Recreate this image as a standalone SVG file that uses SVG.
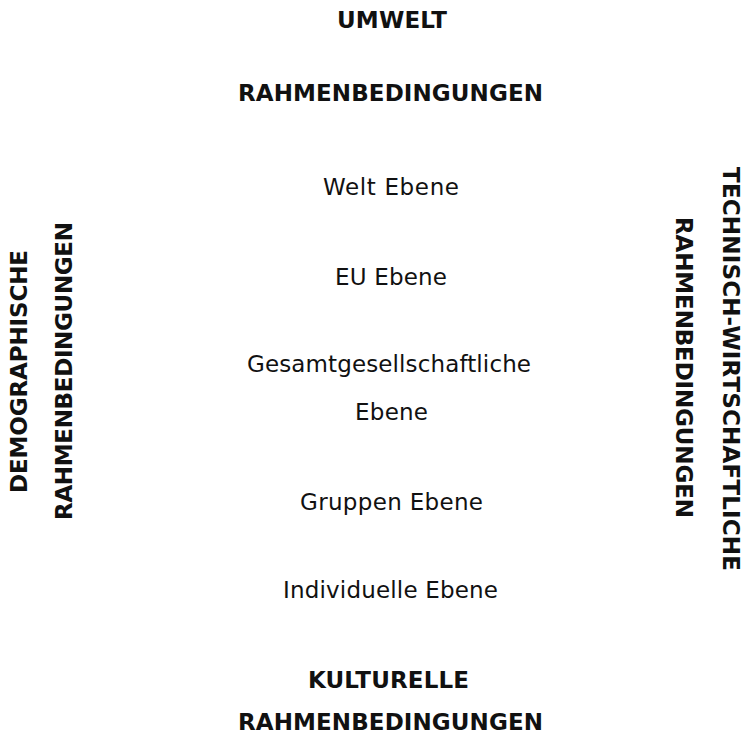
<svg xmlns="http://www.w3.org/2000/svg" width="746" height="736" viewBox="0 0 746 736">
<style>
text{font-family:"DejaVu Sans","Open Sans",sans-serif;fill:#111;text-anchor:middle;font-size:23px}
.b{font-weight:bold}
</style>
<rect width="746" height="736" fill="#fff"/>
<g id="umwelt"><text class="b" x="392" y="28" textLength="110" lengthAdjust="spacing">UMWELT</text><text class="b" x="390.5" y="101" textLength="305" lengthAdjust="spacing">RAHMENBEDINGUNGEN</text></g>
<g id="welt"><text x="391" y="195" textLength="136" lengthAdjust="spacing">Welt Ebene</text></g>
<g id="eu"><text x="391" y="285" textLength="112" lengthAdjust="spacing">EU Ebene</text></g>
<g id="gesamt"><text x="389" y="372" textLength="284" lengthAdjust="spacing">Gesamtgesellschaftliche</text><text x="391.5" y="420" textLength="73" lengthAdjust="spacing">Ebene</text></g>
<g id="gruppen"><text x="391.5" y="510" textLength="183" lengthAdjust="spacing">Gruppen Ebene</text></g>
<g id="individuelle"><text x="390.5" y="598" textLength="215" lengthAdjust="spacing">Individuelle Ebene</text></g>
<g id="kulturelle"><text class="b" x="388.5" y="688" textLength="161" lengthAdjust="spacing">KULTURELLE</text><text class="b" x="390.5" y="730" textLength="305" lengthAdjust="spacing">RAHMENBEDINGUNGEN</text></g>
<g id="demographische"><text class="b" transform="translate(27,371.5) rotate(-90)" textLength="243" lengthAdjust="spacing">DEMOGRAPHISCHE</text><text class="b" transform="translate(72,371) rotate(-90)" textLength="298" lengthAdjust="spacing">RAHMENBEDINGUNGEN</text></g>
<g id="technisch"><text class="b" transform="translate(723,369) rotate(90)" textLength="404" lengthAdjust="spacing">TECHNISCH-WIRTSCHAFTLICHE</text><text class="b" transform="translate(676,367.5) rotate(90)" textLength="301" lengthAdjust="spacing">RAHMENBEDINGUNGEN</text></g>
<g id="connectors"/>
</svg>
